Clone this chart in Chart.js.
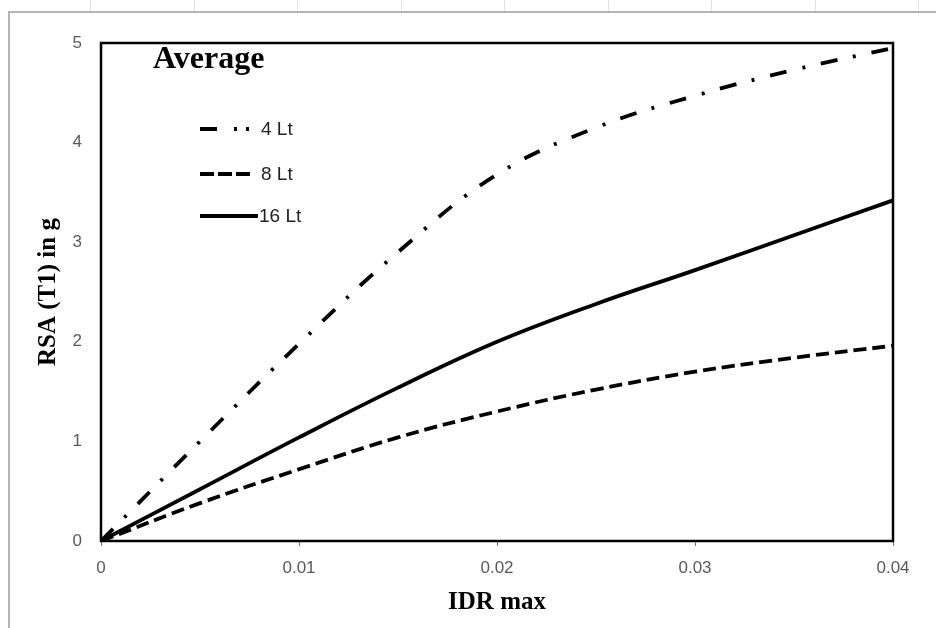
<!DOCTYPE html>
<html lang="en">
<head>
<meta charset="UTF-8">
<title>Average RSA vs IDR</title>
<script src="https://cdn.jsdelivr.net/npm/chart.js"></script>
<style>
    html, body { margin: 0; padding: 0; background: #fff; }
    #wrap { width: 936px; height: 628px; position: relative; }
</style>
</head>
<body>
<div id="wrap"><canvas id="grafico"></canvas></div>
<script>
    // valores
    const idr = [0, 0.005, 0.01, 0.015, 0.02, 0.025, 0.03, 0.035, 0.04];
    const rsa4 = [0, 1.0, 1.98, 2.9, 3.68, 4.15, 4.47, 4.73, 4.95];
    const rsa8 = [0, 0.38, 0.72, 1.04, 1.30, 1.52, 1.70, 1.84, 1.96];
    const rsa16 = [0, 0.52, 1.04, 1.54, 2.0, 2.38, 2.72, 3.07, 3.42];
    const seriesNames = ['4 Lt', '8 Lt', '16 Lt'];
    const xTicks = [0, 0.01, 0.02, 0.03, 0.04];
    const yTicks = [0, 1, 2, 3, 4, 5];

    function pontos(ys) {
        return idr.map((x, i) => ({ x: x, y: ys[i] }));
    }

    // tracejado da curva e da amostra na legenda
    const estilos = [
        { dash: [17, 16, 3, 16], legenda: [17, 17, 3, 9, 3, 100] },
        { dash: [13, 6], legenda: [14, 4] },
        { dash: [], legenda: [] }
    ];

    const dados = {
        datasets: [rsa4, rsa8, rsa16].map((ys, i) => ({
            label: seriesNames[i],
            data: pontos(ys),
            showLine: true,
            borderColor: '#000',
            borderWidth: 3.8,
            borderDash: estilos[i].dash,
            borderCapStyle: 'butt',
            pointRadius: 0,
            tension: 0.4,
            fill: false
        }))
    };

    // moldura, grade da planilha, título e legenda
    const enfeites = {
        id: 'enfeites',
        beforeDraw(chart) {
            const ctx = chart.ctx;
            ctx.save();
            ctx.strokeStyle = '#e2e2e2';
            ctx.lineWidth = 1;
            for (let x = 90; x < 936; x += 103.5) {
                ctx.beginPath();
                ctx.moveTo(Math.round(x) + 0.5, 0);
                ctx.lineTo(Math.round(x) + 0.5, 12);
                ctx.stroke();
            }
            ctx.strokeStyle = '#9a9a9a';
            ctx.lineWidth = 1.5;
            ctx.beginPath();
            ctx.moveTo(9, 628);
            ctx.lineTo(9, 12);
            ctx.lineTo(936, 12);
            ctx.stroke();
            ctx.restore();
        },
        afterDatasetsDraw(chart) {
            const ctx = chart.ctx;
            const a = chart.chartArea;
            ctx.save();
            ctx.strokeStyle = '#000';
            ctx.lineWidth = 2.5;
            ctx.strokeRect(a.left, a.top, a.right - a.left, a.bottom - a.top);

            ctx.fillStyle = '#000';
            ctx.font = 'bold 32px "Liberation Serif"';
            ctx.textBaseline = 'alphabetic';
            ctx.fillText('Average', a.left + 52, a.top + 25);

            const ys = [a.top + 86, a.top + 131, a.top + 173];
            const fins = [150, 150, 157];
            chart.data.datasets.forEach((ds, i) => {
                ctx.beginPath();
                ctx.setLineDash(estilos[i].legenda);
                ctx.lineWidth = ds.borderWidth;
                ctx.lineCap = 'butt';
                ctx.moveTo(a.left + 99, ys[i]);
                ctx.lineTo(a.left + fins[i], ys[i]);
                ctx.stroke();
                ctx.setLineDash([]);
                ctx.font = '19px "Liberation Sans"';
                ctx.fillStyle = '#222';
                ctx.textBaseline = 'middle';
                ctx.fillText(ds.label, a.left + (i === 2 ? 158 : 160), ys[i] + 1);
            });
            ctx.restore();
        }
    };

    const config = {
        type: 'scatter',
        data: dados,
        options: {
            responsive: false,
            animation: false,
            layout: { padding: { left: 0, right: 43, top: 43, bottom: 0 } },
            plugins: {
                legend: { display: false },
                tooltip: { enabled: false }
            },
            scales: {
                x: {
                    type: 'linear',
                    min: 0,
                    max: 0.04,
                    afterFit: s => { s.height = 87; },
                    afterBuildTicks: s => { s.ticks = xTicks.map(v => ({ value: v })); },
                    border: { display: false },
                    grid: { drawOnChartArea: false, tickLength: 5, color: '#777' },
                    ticks: {
                        padding: 12,
                        color: '#595959',
                        font: { family: 'Liberation Sans', size: 17 },
                        callback: v => String(+v.toFixed(2))
                    },
                    title: {
                        display: true,
                        text: 'IDR max',
                        color: '#000',
                        font: { family: 'Liberation Serif', size: 25, weight: 'bold' },
                        padding: { top: 0, bottom: 10 }
                    }
                },
                y: {
                    min: 0,
                    max: 5,
                    afterFit: s => { s.width = 101; },
                    afterBuildTicks: s => { s.ticks = yTicks.map(v => ({ value: v })); },
                    border: { display: false },
                    grid: { display: false, drawTicks: false, tickLength: 0 },
                    ticks: {
                        padding: 19,
                        color: '#595959',
                        font: { family: 'Liberation Sans', size: 17 }
                    },
                    title: {
                        display: true,
                        text: 'RSA (T1) in g',
                        color: '#000',
                        font: { family: 'Liberation Serif', size: 25, weight: 'bold' },
                        padding: { top: 34, bottom: 0 }
                    }
                }
            }
        },
        plugins: [enfeites]
    };

    const canvas = document.getElementById('grafico');
    canvas.width = 936;
    canvas.height = 628;
    new Chart(canvas, config);
</script>
</body>
</html>
